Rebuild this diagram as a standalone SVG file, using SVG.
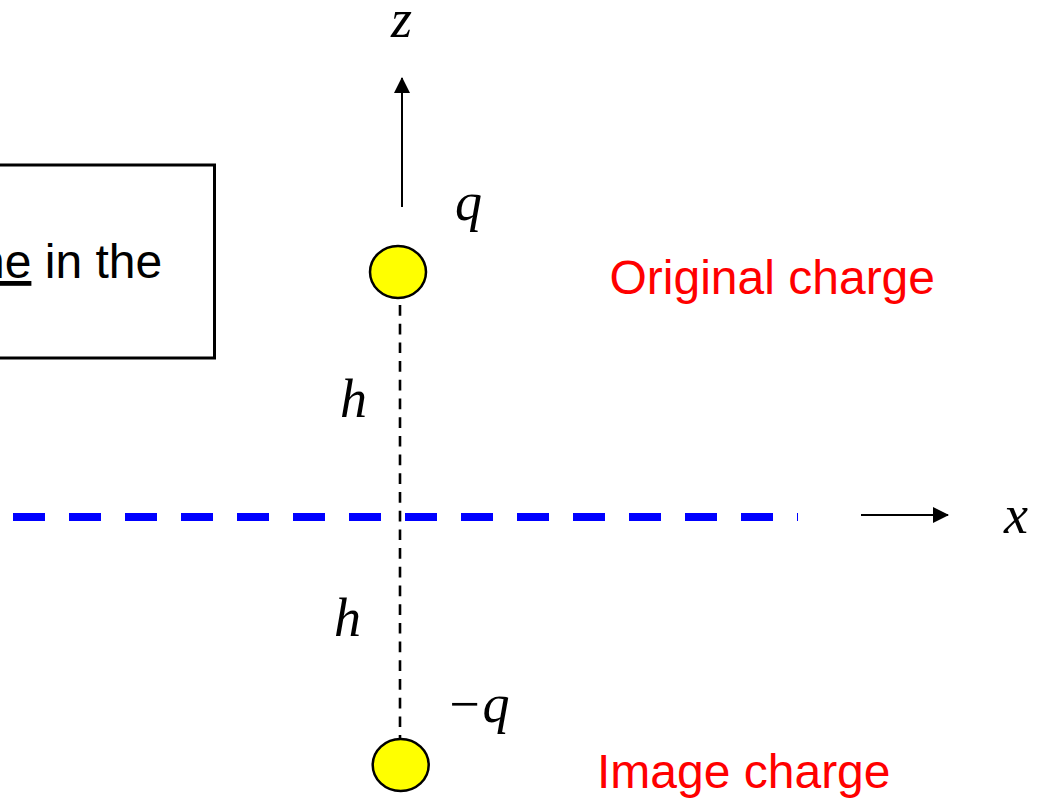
<svg xmlns="http://www.w3.org/2000/svg" width="1042" height="798" viewBox="0 0 1042 798">
<style>
.it{font-family:"Liberation Serif","Times New Roman",serif;font-style:italic;font-size:54px;fill:#000}
.red{font-family:"Liberation Sans",Arial,sans-serif;font-size:48px;fill:#FF0000}
.sans{font-family:"Liberation Sans",Arial,sans-serif;font-size:48px;fill:#000}
.charge{fill:#FFFF00;stroke:#000;stroke-width:2.5}
</style>
<defs>
<marker id="ah" markerUnits="userSpaceOnUse" markerWidth="16" markerHeight="16" refX="15" refY="8" orient="auto">
<path d="M0,0 L16,8 L0,16 z" fill="#000"/>
</marker>
</defs>
<rect width="1042" height="798" fill="#fff"/>
<g id="textbox">
<rect x="-10" y="165" width="224.5" height="193" fill="none" stroke="#000" stroke-width="3"/>
<text class="sans" x="-22" y="278"><tspan text-decoration="underline">ne</tspan> in the</text>
</g>
<g id="connectors">
<line x1="13" y1="517" x2="798" y2="517" stroke="#0000FF" stroke-width="8" stroke-dasharray="32 24"/>
<line x1="400" y1="305" x2="400" y2="739" stroke="#000" stroke-width="2.6" stroke-dasharray="10.7 8"/>
<line x1="402" y1="207" x2="402" y2="78" stroke="#000" stroke-width="2" marker-end="url(#ah)"/>
<line x1="861" y1="515" x2="948" y2="515" stroke="#000" stroke-width="2" marker-end="url(#ah)"/>
</g>
<g id="original">
<ellipse class="charge" cx="398" cy="272" rx="28" ry="26"/>
<text class="it" x="455" y="220">q</text>
<text class="red" x="609.5" y="294">Original charge</text>
</g>
<g id="image">
<ellipse class="charge" cx="400.7" cy="765" rx="28" ry="26"/>
<text class="it" x="446" y="722">−q</text>
<text class="red" x="597" y="788">Image charge</text>
</g>
<g id="labels">
<text class="it" x="391" y="37">z</text>
<text class="it" x="340" y="417">h</text>
<text class="it" x="334" y="636">h</text>
<text class="it" x="1004" y="533">x</text>
</g>
</svg>
